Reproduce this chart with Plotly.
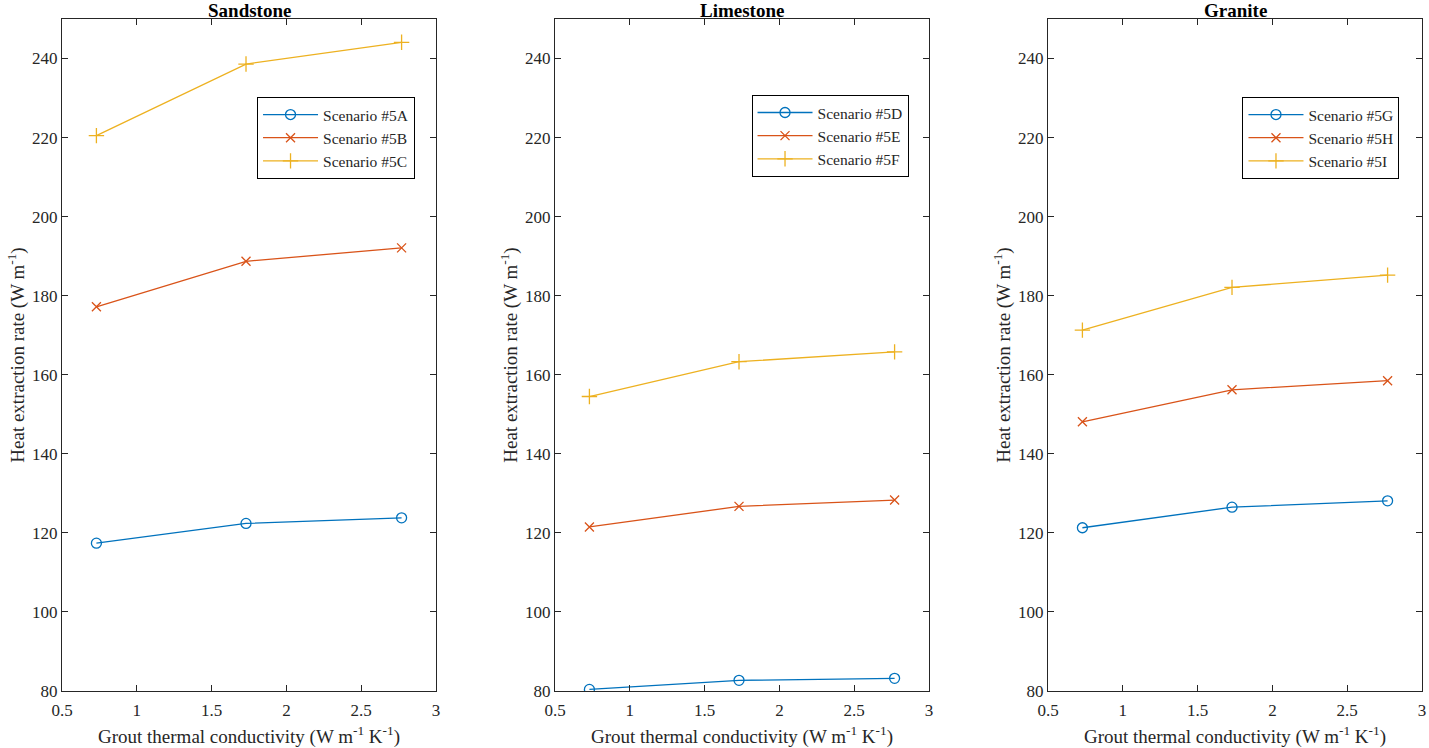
import plotly.graph_objects as go
from plotly.subplots import make_subplots

x_vals = [0.73, 1.73, 2.77]

panel_titles = ["Sandstone", "Limestone", "Granite"]
series_names = [
    ["Scenario #5A", "Scenario #5B", "Scenario #5C"],
    ["Scenario #5D", "Scenario #5E", "Scenario #5F"],
    ["Scenario #5G", "Scenario #5H", "Scenario #5I"],
]
sandstone = [[117.4, 122.4, 123.8], [177.2, 188.7, 192.1], [220.5, 238.6, 244.1]]
limestone = [[80.4, 82.7, 83.2], [121.5, 126.7, 128.3], [154.5, 163.3, 165.8]]
granite = [[121.3, 126.5, 128.1], [148.1, 156.2, 158.5], [171.3, 182.1, 185.2]]
panel_values = [sandstone, limestone, granite]

colors = ["#0072BD", "#D95319", "#EDB120"]
symbols = ["circle-open", "x-thin-open", "cross-thin-open"]
sizes = [10, 9, 11]

FONT = "Liberation Serif"

fig = make_subplots(rows=1, cols=3, horizontal_spacing=0.0875)

legend_names = ["legend", "legend2", "legend3"]
for p in range(3):
    for s in range(3):
        fig.add_trace(
            go.Scatter(
                x=x_vals,
                y=panel_values[p][s],
                mode="lines+markers",
                name=series_names[p][s],
                line=dict(color=colors[s], width=1.3),
                marker=dict(symbol=symbols[s], size=sizes[s], color=colors[s],
                            line=dict(color=colors[s], width=1.3)),
                legend=legend_names[p],
            ),
            row=1, col=p + 1,
        )

domains = [(0.0, 0.275), (0.3625, 0.6375), (0.725, 1.0)]
for p in range(3):
    xa = "xaxis" if p == 0 else f"xaxis{p+1}"
    ya = "yaxis" if p == 0 else f"yaxis{p+1}"
    fig.layout[xa].update(
        domain=domains[p], range=[0.5, 3], tickvals=[0.5, 1, 1.5, 2, 2.5, 3],
        ticktext=["0.5", "1", "1.5", "2", "2.5", "3"],
        ticks="inside", ticklen=6, tickwidth=1.2, tickcolor="#262626",
        showline=True, linecolor="#262626", linewidth=1.2, mirror="ticks",
        showgrid=False, zeroline=False, ticklabelstandoff=3, automargin=False,
        tickfont=dict(family=FONT, size=17, color="#262626"),
        title=dict(text="Grout thermal conductivity (W m<sup>-1</sup> K<sup>-1</sup>)",
                   font=dict(family=FONT, size=19, color="#262626"), standoff=12),
    )
    fig.layout[ya].update(
        range=[80, 250], tickvals=[80, 100, 120, 140, 160, 180, 200, 220, 240],
        ticks="inside", ticklen=6, tickwidth=1.2, tickcolor="#262626",
        showline=True, linecolor="#262626", linewidth=1.2, mirror="ticks",
        showgrid=False, zeroline=False, automargin=False,
        tickfont=dict(family=FONT, size=17, color="#262626"),
        title=dict(text="Heat extraction rate (W m<sup>-1</sup>)",
                   font=dict(family=FONT, size=19, color="#262626"), standoff=2),
    )
    cx = (domains[p][0] + domains[p][1]) / 2
    fig.add_annotation(text=f"<b>{panel_titles[p]}</b>", xref="paper", yref="paper",
                       x=cx, y=1.0, yanchor="bottom", xanchor="center", showarrow=False,
                       font=dict(family=FONT, size=19, color="black"), yshift=-4)

legend_pos = [(0.1434, 0.884), (0.507, 0.887), (0.868, 0.884)]
for p in range(3):
    lg = dict(x=legend_pos[p][0], y=legend_pos[p][1], xanchor="left", yanchor="top",
              bgcolor="white", bordercolor="black", borderwidth=1,
              font=dict(family=FONT, size=15.5, color="#262626"),
              itemwidth=55, tracegroupgap=0)
    if p == 0:
        fig.layout.legend.update(lg)
    else:
        fig.layout[legend_names[p]] = lg

fig.update_layout(
    width=1429, height=748,
    margin=dict(l=62, r=7, t=19, b=57),
    paper_bgcolor="white", plot_bgcolor="white",
    showlegend=True,
)

fig.write_html("out.html", config={"displayModeBar": False},
               post_script="document.body.style.margin='0';")
